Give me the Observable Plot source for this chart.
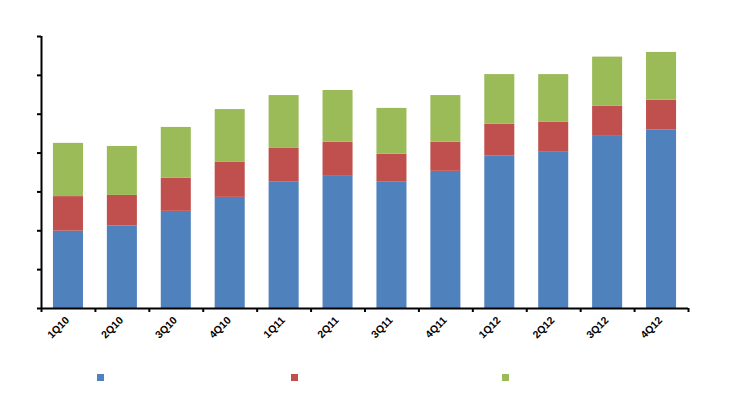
<!DOCTYPE html>
<html>
<head>
<meta charset="utf-8">
<script src="https://cdn.jsdelivr.net/npm/d3@7"></script>
<script src="https://cdn.jsdelivr.net/npm/@observablehq/plot@0.6"></script>
<style>
  html, body { margin: 0; padding: 0; background: #fff; }
  #chart { width: 733px; font-family: "Liberation Sans", Arial, sans-serif; }
  #legend { position: relative; width: 733px; height: 65px; }
  #legend span { position: absolute; width: 7px; height: 7px; top: 29px; }
</style>
</head>
<body>
<div id="chart"></div>
<div id="legend"></div>
<script>
const categories = ["1Q10","2Q10","3Q10","4Q10","1Q11","2Q11","3Q11","4Q11","1Q12","2Q12","3Q12","4Q12"];
const seriesNames = ["Series 1", "Series 2", "Series 3"];
const series1 = [19.9, 21.2, 25.0, 28.6, 32.5, 34.2, 32.5, 35.3, 39.2, 40.2, 44.3, 45.9];
const series2 = [8.9, 7.9, 8.5, 9.0, 8.7, 8.6, 7.2, 7.5, 8.2, 7.7, 7.8, 7.7];
const series3 = [13.7, 12.6, 13.1, 13.6, 13.6, 13.3, 11.8, 12.0, 12.8, 12.3, 12.6, 12.3];
const colors = ["#4F81BD", "#C0504D", "#9BBB59"];
const yTicks = [0, 10, 20, 30, 40, 50, 60, 70];

const seriesValues = [series1, series2, series3];
const data = [];
categories.forEach((q, i) => {
  seriesValues.forEach((vals, s) => data.push({quarter: q, series: seriesNames[s], value: vals[i]}));
});

const W = 733, H = 345;
const mL = 41, mR = 45, mT = 36, mB = 37;
const step = (W - mL - mR) / categories.length;

const chart = Plot.plot({
  width: W,
  height: H,
  marginLeft: mL,
  marginRight: mR,
  marginTop: mT,
  marginBottom: mB,
  style: {fontFamily: "'Liberation Sans', Arial, sans-serif", background: "#fff"},
  x: {domain: categories, paddingInner: 0.443, paddingOuter: 0.2215, align: 0.5, round: false},
  y: {domain: [0, 70]},
  color: {domain: seriesNames, range: colors},
  marks: [
    Plot.barY(data, {x: "quarter", y: "value", fill: "series"}),
    Plot.axisY(yTicks, {tickSize: 4, tickFormat: () => "", strokeWidth: 2, stroke: "#000", label: null}),
    Plot.axisX(categories, {tickSize: 4, tickFormat: () => "", dx: -step / 2, strokeWidth: 2, stroke: "#000", label: null}),
    Plot.axisX([categories[categories.length - 1]], {tickSize: 4, tickFormat: () => "", dx: step / 2, strokeWidth: 2, stroke: "#000", label: null}),
    Plot.axisX(categories, {tickSize: 0, tickRotate: -45, tickPadding: 10, dx: -1, fontWeight: "bold", fontSize: 10.5, fill: "#000", label: null}),
    Plot.ruleY([0], {stroke: "#000", strokeWidth: 2}),
    Plot.ruleX([categories[0]], {dx: -step / 2, stroke: "#000", strokeWidth: 2})
  ]
});
document.getElementById("chart").appendChild(chart);

const legendX = [97, 291, 502];
const legend = d3.select("#legend");
seriesNames.forEach((name, i) => {
  legend.append("span")
    .attr("title", name)
    .style("left", legendX[i] + "px")
    .style("background", colors[i]);
});
</script>
</body>
</html>
